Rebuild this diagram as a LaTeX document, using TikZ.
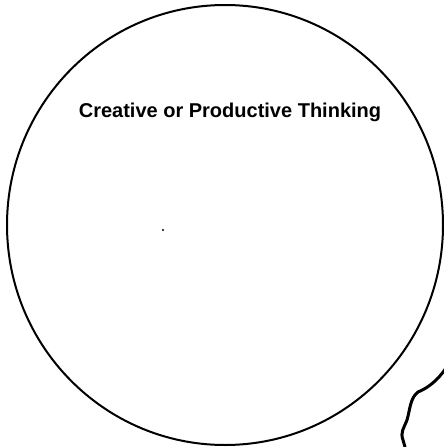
\documentclass[tikz,border=0pt]{standalone}
\usepackage{fontspec}
\setmainfont{Liberation Sans}
\begin{document}
\begin{tikzpicture}[x=1pt,y=-1pt,
  outline/.style={draw=black,line width=2pt},
  label/.style={font=\fontsize{20}{24}\selectfont\bfseries, inner sep=0pt, anchor=base}]
\useasboundingbox (0,0) rectangle (444,447);
\draw[outline] (225,225) ellipse [x radius=218, y radius=220];
\node[label] (title) at (230,117) {Creative or Productive Thinking};
\fill (163,230) circle [radius=1.2];
\draw[line width=3pt, line cap=round]
  (446,368) .. controls (438,380) and (428,388) .. (418,392)
  .. controls (410,398) and (410,410) .. (407,420)
  .. controls (404,428) and (400,432) .. (403,440)
  -- (405,447);
\end{tikzpicture}
\end{document}
